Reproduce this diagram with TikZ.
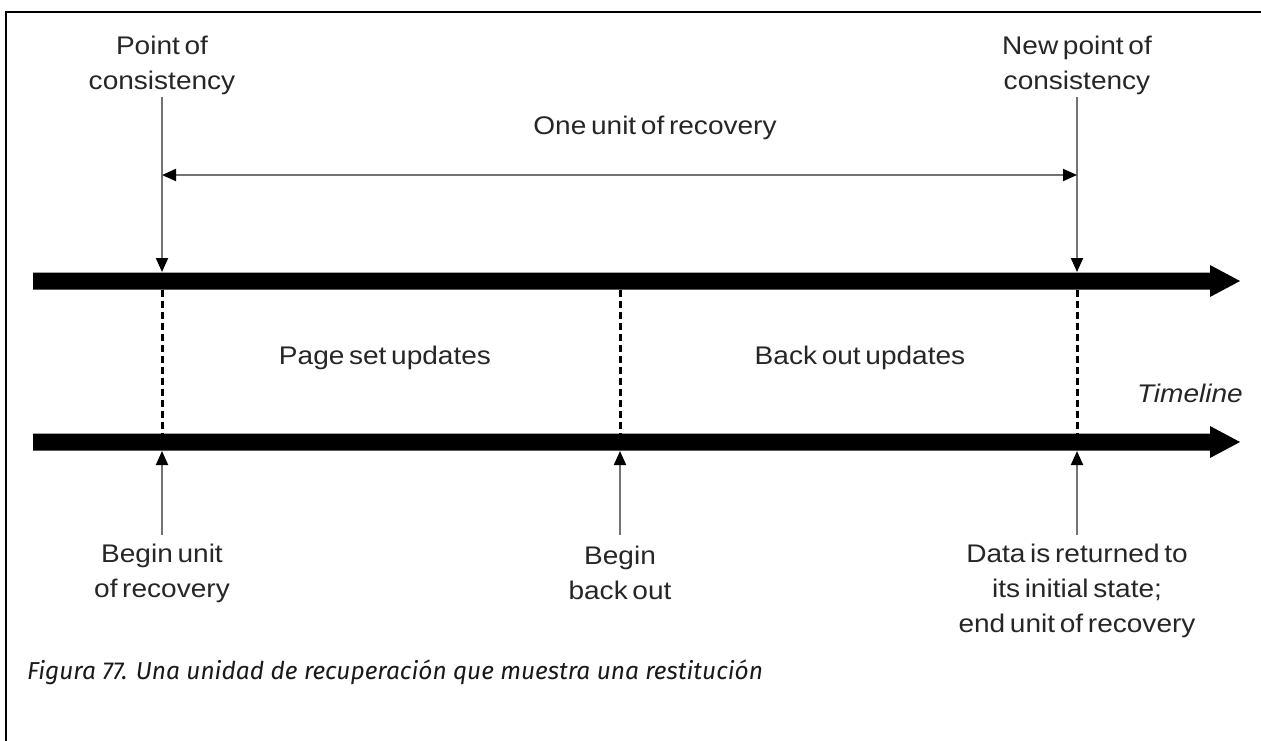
\documentclass[tikz,border=0pt]{standalone}
\usepackage{fontspec}
\newfontfamily\dfont[FakeStretch=1.1,WordSpace=0.6]{Liberation Sans}
\newfontfamily\cfont{Fira Sans}
\usetikzlibrary{arrows.meta}
\begin{document}
\begin{tikzpicture}[x=1pt,y=-1pt,
  lbl/.style={font=\dfont\fontsize{25.5}{35}\selectfont, align=center, inner sep=0pt, text=black!85},
  thinarrow/.style={draw=black!55, line width=2pt, -{Triangle[length=14pt,width=12pt,color=black]}},
  dblarrow/.style={draw=black!55, line width=2pt, {Triangle[length=14pt,width=12pt,color=black]}-{Triangle[length=14pt,width=12pt,color=black]}},
  dashline/.style={draw=black, line width=3pt, dash pattern=on 7pt off 4pt},
  bar/.style={fill=black}
]
\useasboundingbox (0,0) rectangle (1261,740);
% frame
\draw[line width=2pt] (6,12) rectangle (1290,770);

% thick timeline bars
\fill[bar] (33,272.5) -- (1210,272.5) -- (1210,265) -- (1240,281) -- (1210,297) -- (1210,289.5) -- (33,289.5) -- cycle;
\fill[bar] (33,433.5) -- (1210,433.5) -- (1210,426) -- (1240,442) -- (1210,458) -- (1210,450.5) -- (33,450.5) -- cycle;

% coordinates
\coordinate (t1) at (162,97);
\coordinate (t2) at (1077,97);
\coordinate (a1) at (162,272);
\coordinate (a2) at (1077,272);
\coordinate (h1) at (162,175);
\coordinate (h2) at (1077,175);
\coordinate (d1) at (162,289.5);
\coordinate (d2) at (620,289.5);
\coordinate (d3) at (1077,289.5);
\coordinate (e1) at (162,433.5);
\coordinate (e2) at (620,433.5);
\coordinate (e3) at (1077,433.5);
\coordinate (u1) at (162,451);
\coordinate (u2) at (620,451);
\coordinate (u3) at (1077,451);
\coordinate (s1) at (162,535);
\coordinate (s2) at (620,535);
\coordinate (s3) at (1077,535);

% labels
\node[lbl] (poc) at (162,65) {Point of\\consistency};
\node[lbl] (npoc) at (1077,65) {New point of\\consistency};
\node[lbl] (unit) at (655,128) {One unit of recovery};
\node[lbl] (psu) at (385,358) {Page set updates};
\node[lbl] (bou) at (860,358) {Back out updates};
\node[lbl, font=\dfont\itshape\fontsize{25.5}{35}\selectfont, anchor=east] (tl) at (1243,393) {Timeline};
\node[lbl] (buor) at (162,573) {Begin unit\\of recovery};
\node[lbl] (bbo) at (620,573) {Begin\\back out};
\node[lbl] (data) at (1077,591) {Data is returned to\\its initial state;\\end unit of recovery};
\node[font=\cfont\itshape\fontsize{24.5}{30}\selectfont, anchor=west, inner sep=0pt, text=black!90] (cap) at (27,672) {Figura 77. Una unidad de recuperación que muestra una restitución};

% connectors
\draw[thinarrow] (t1) -- (a1);
\draw[thinarrow] (t2) -- (a2);
\draw[dblarrow] (h1) -- (h2);
\draw[dashline] (d1) -- (e1);
\draw[dashline] (d2) -- (e2);
\draw[dashline] (d3) -- (e3);
\draw[thinarrow] (s1) -- (u1);
\draw[thinarrow] (s2) -- (u2);
\draw[thinarrow] (s3) -- (u3);
\end{tikzpicture}
\end{document}
